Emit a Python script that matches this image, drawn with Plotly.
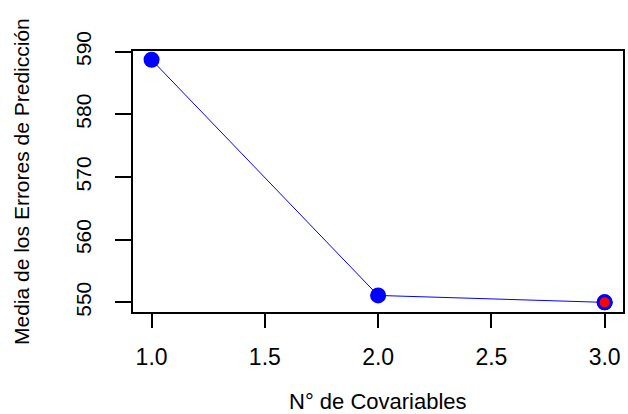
import plotly.graph_objects as go

covariables = [1, 2, 3]
media_errores = [588.7, 551.1, 550.0]
best_index = 2

x_tick_vals = [1.0, 1.5, 2.0, 2.5, 3.0]
x_tick_text = ["1.0", "1.5", "2.0", "2.5", "3.0"]
y_tick_vals = [550, 560, 570, 580, 590]
y_tick_text = ["550", "560", "570", "580", "590"]

font_family = "Liberation Sans, Arial, sans-serif"

fig = go.Figure()
fig.add_trace(go.Scatter(
    x=covariables, y=media_errores, mode="lines+markers",
    line=dict(color="blue", width=1),
    marker=dict(color="blue", size=16, line=dict(width=0)),
    showlegend=False, hoverinfo="skip"))
fig.add_trace(go.Scatter(
    x=[covariables[best_index]], y=[media_errores[best_index]], mode="markers",
    marker=dict(color="red", size=13, line=dict(color="blue", width=3)),
    showlegend=False, hoverinfo="skip"))

axis_common = dict(
    showgrid=False, zeroline=False, showline=True, linecolor="black", linewidth=1.5,
    mirror=True, ticks="outside", tickwidth=1.5, tickcolor="black")

fig.update_xaxes(range=[0.918, 3.081], tickvals=x_tick_vals, ticktext=x_tick_text,
                 ticklen=14, ticklabelstandoff=10,
                 tickfont=dict(family=font_family, size=23, color="black"),
                 **axis_common)
fig.update_yaxes(range=[548.46, 590.1], tickvals=y_tick_vals, ticktext=y_tick_text,
                 tickangle=-90, ticklen=16, ticklabelstandoff=16,
                 tickfont=dict(family=font_family, size=21, color="black"),
                 **axis_common)

fig.add_annotation(text="N° de Covariables", xref="paper", yref="paper",
                   x=0.5, y=-0.342, xanchor="center", yanchor="middle", showarrow=False,
                   font=dict(family=font_family, size=22, color="black"))
fig.add_annotation(text="Media de los Errores de Predicción", xref="paper", yref="paper",
                   x=-0.2275, y=0.5, xanchor="center", yanchor="middle", showarrow=False,
                   textangle=-90,
                   font=dict(family=font_family, size=21, color="black"))

fig.update_layout(width=628, height=414, margin=dict(l=133, r=3, t=51, b=102),
                  plot_bgcolor="white", paper_bgcolor="white")
fig.write_html("out.html")
